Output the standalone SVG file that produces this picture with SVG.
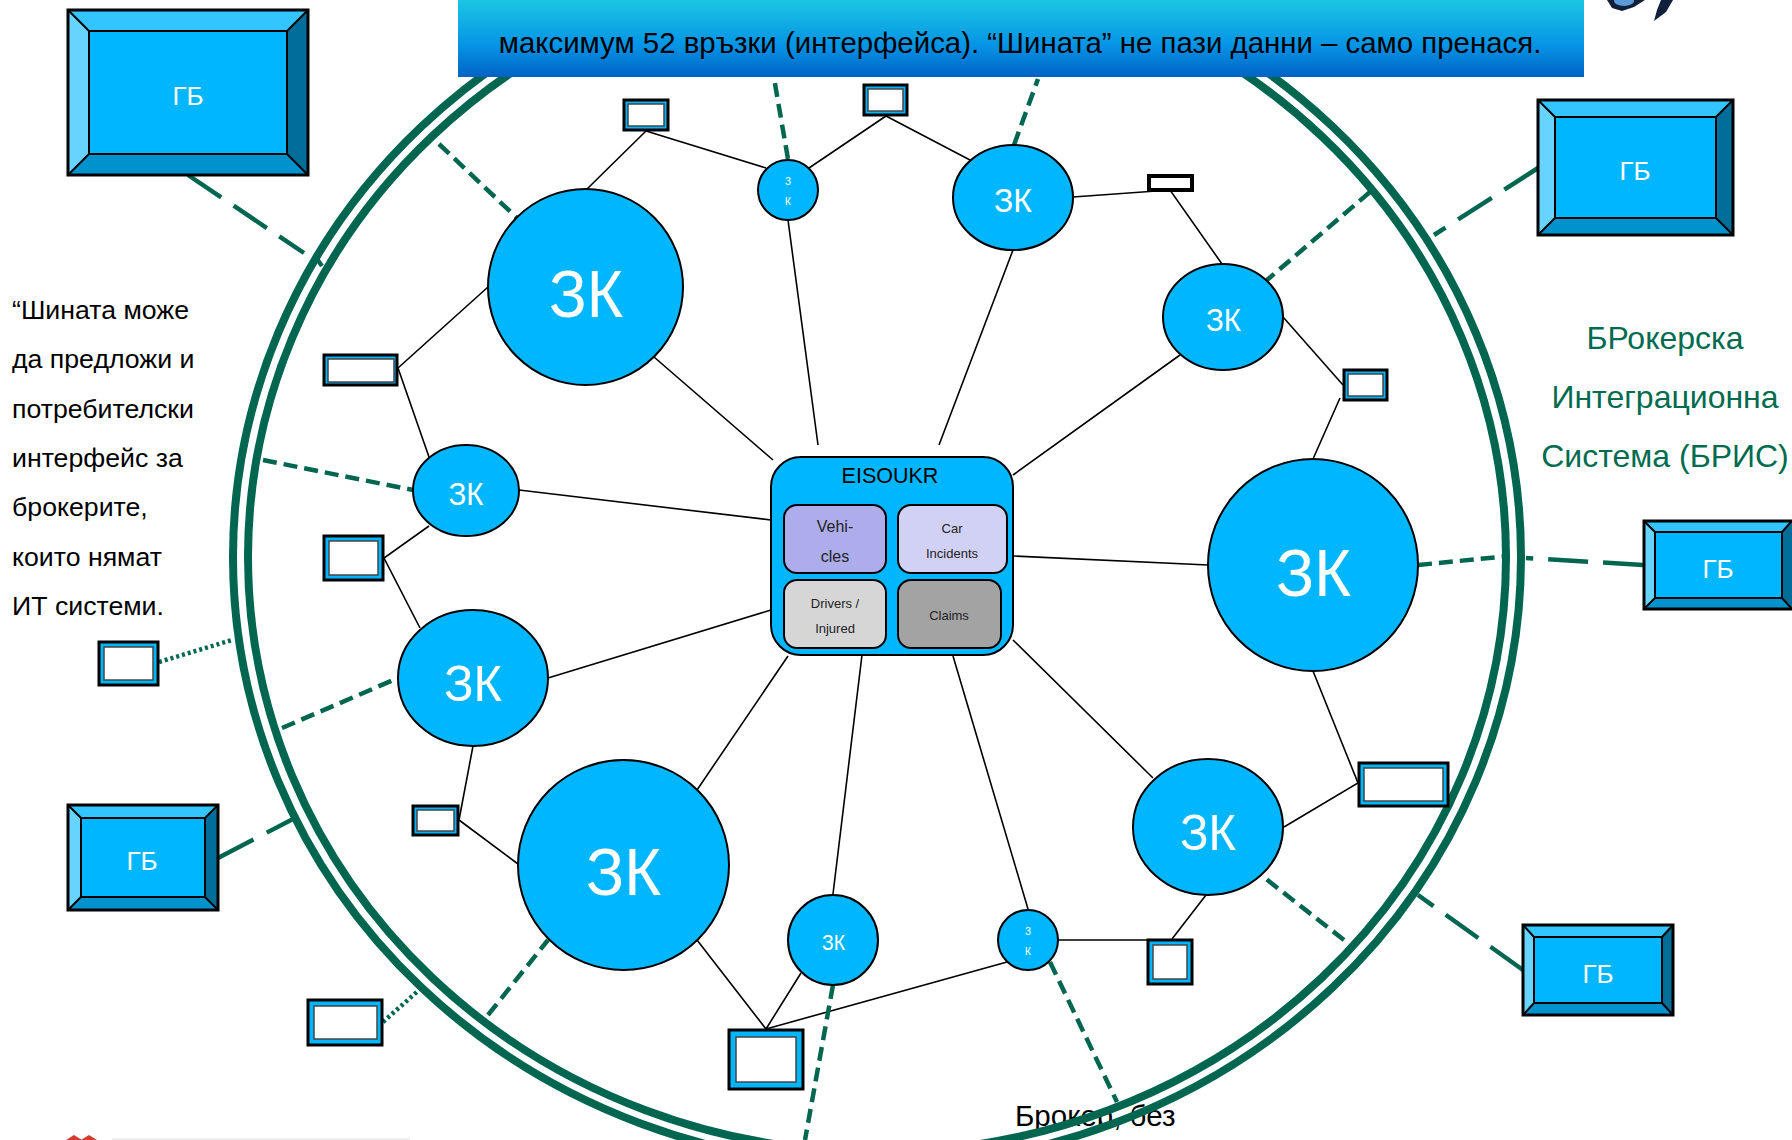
<svg xmlns="http://www.w3.org/2000/svg" width="1792" height="1140" viewBox="0 0 1792 1140">
<style>
text{font-family:"Liberation Sans",Arial,sans-serif}
.c{text-anchor:middle}
.w{fill:#fff}
.n{fill:#00B7FF;stroke:#000;stroke-width:2}
.l{stroke:#000;stroke-width:1.6;fill:none}
.g{stroke:#006650;stroke-width:4.5;fill:none}
.d{stroke-dasharray:14 7}
.ld{stroke-dasharray:40 15}
.dt{stroke-dasharray:3 3}
.ring{fill:none;stroke:#006650;stroke-width:8}
.bo{fill:#00B7FF;stroke:#000;stroke-width:3}
.bi{fill:#fff;stroke:#444;stroke-width:1.5}
.f{stroke:#000;stroke-width:2}
</style>
<defs>
<linearGradient id="bg" x1="0" y1="0" x2="0" y2="1"><stop offset="0" stop-color="#1CC6E2"/><stop offset=".6" stop-color="#0593E6"/><stop offset="1" stop-color="#0062C4"/></linearGradient>
</defs>
<rect width="1792" height="1140" fill="#fff"/>
<text x="1015" y="1126" font-size="29.500" fill="#000">Брокер, без</text>
<g id="bus">
<ellipse class="ring" cx="877" cy="557" rx="644" ry="609"/>
<ellipse class="ring" cx="877" cy="557" rx="629" ry="595"/>
</g>
<g id="connectors">
<path class="l" d="M654 357L773 460M788 220L818 445M1013 250L939 445M1180 355L1013 475M1208 565L1014 556M1153 778L1013 640M1028 909L953 656M833 894L862 655M697 790L788 656M548 678L771 610M519 490L771 520"/>
<path class="l" d="M646 131L586 190M646 131L766 168M886 116L809 168M886 116L970 160M1073 197L1170 190L1222 264M1283 317L1343 385M1340 398L1313 459M1313 671L1358 783L1284 827M1206 895L1172 939M1058 940L1172 940M1007 962L766 1029M801 973L766 1029M697 940L766 1029M459 820L518 864M473 746L459 820M429 526L384 558L420 628M398 368L488 287M398 368L429 457"/>
<path class="g ld" d="M188 175L304 253"/>
<path class="g" d="M317 259L322 266"/>
<path class="g d" d="M439 144L517 218M788 159L774 78M1014 145L1038 79M1370 192L1267 280M263 460L413 490M282 728L398 678M488 1015L548 940M833 985L805 1140M1050 962L1117 1102M1344 940L1261 875M1418 565L1509 556"/>
<path class="g ld" d="M1538 168L1434 235M218 858L293 819M1523 970L1418 895M1643 565L1526 558"/>
<path class="g dt" d="M159 662L232 640M383 1022L419 990"/>
</g>
<g id="banner">
<rect x="458" y="0" width="1126" height="77" fill="url(#bg)"/>
<text x="1020" y="53" class="c" font-size="29.400" fill="#000">максимум 52 връзки (интерфейса). “Шината” не пази данни – само пренася.</text>
</g>
<g id="gb1"><rect x="68" y="10" width="240" height="165" fill="#00B7FF"/><path fill="#33C5FF" d="M68 10H308L287 31H89Z"/><path fill="#66D4FF" d="M68 10L89 31V154L68 175Z"/><path fill="#006E99" d="M308 10L287 31V154L308 175Z"/><path fill="#0092CC" d="M68 175L89 154H287L308 175Z"/><path fill="none" stroke="#000" stroke-width="2" d="M68 10L89 31M308 10L287 31M68 175L89 154M308 175L287 154M89 31H287V154H89Z"/><rect x="68" y="10" width="240" height="165" fill="none" stroke="#000" stroke-width="3"/><text x="188" y="105" class="c w" font-size="26">ГБ</text></g>
<g id="gb2"><rect x="1538" y="100" width="195" height="135" fill="#00B7FF"/><path fill="#33C5FF" d="M1538 100H1733L1716 117H1555Z"/><path fill="#66D4FF" d="M1538 100L1555 117V218L1538 235Z"/><path fill="#006E99" d="M1733 100L1716 117V218L1733 235Z"/><path fill="#0092CC" d="M1538 235L1555 218H1716L1733 235Z"/><path fill="none" stroke="#000" stroke-width="2" d="M1538 100L1555 117M1733 100L1716 117M1538 235L1555 218M1733 235L1716 218M1555 117H1716V218H1555Z"/><rect x="1538" y="100" width="195" height="135" fill="none" stroke="#000" stroke-width="3"/><text x="1635" y="180" class="c w" font-size="26">ГБ</text></g>
<g id="gb3"><rect x="1644" y="521" width="160" height="88" fill="#00B7FF"/><path fill="#33C5FF" d="M1644 521H1792V520L1782 532H1655Z"/><path fill="#66D4FF" d="M1644 521L1655 532V598L1644 609Z"/><path fill="#006E99" d="M1782 532L1792 521V609L1782 598Z"/><path fill="#0092CC" d="M1644 609L1655 598H1782L1792 609Z"/><path fill="none" stroke="#000" stroke-width="2" d="M1644 521L1655 532M1644 609L1655 598M1792 521L1782 532M1792 609L1782 598M1655 532H1782V598H1655Z"/><rect x="1644" y="521" width="160" height="88" fill="none" stroke="#000" stroke-width="3"/><text x="1718" y="578" class="c w" font-size="26">ГБ</text></g>
<g id="gb4"><rect x="68" y="805" width="150" height="105" fill="#00B7FF"/><path fill="#33C5FF" d="M68 805H218L205 818H81Z"/><path fill="#66D4FF" d="M68 805L81 818V897L68 910Z"/><path fill="#006E99" d="M218 805L205 818V897L218 910Z"/><path fill="#0092CC" d="M68 910L81 897H205L218 910Z"/><path fill="none" stroke="#000" stroke-width="2" d="M68 805L81 818M218 805L205 818M68 910L81 897M218 910L205 897M81 818H205V897H81Z"/><rect x="68" y="805" width="150" height="105" fill="none" stroke="#000" stroke-width="3"/><text x="142" y="870" class="c w" font-size="26">ГБ</text></g>
<g id="gb5"><rect x="1523" y="925" width="150" height="90" fill="#00B7FF"/><path fill="#33C5FF" d="M1523 925H1673L1662 937H1534Z"/><path fill="#66D4FF" d="M1523 925L1534 937V1003L1523 1015Z"/><path fill="#006E99" d="M1673 925L1662 937V1003L1673 1015Z"/><path fill="#0092CC" d="M1523 1015L1534 1003H1662L1673 1015Z"/><path fill="none" stroke="#000" stroke-width="2" d="M1523 925L1534 937M1673 925L1662 937M1523 1015L1534 1003M1673 1015L1662 1003M1534 937H1662V1003H1534Z"/><rect x="1523" y="925" width="150" height="90" fill="none" stroke="#000" stroke-width="3"/><text x="1598" y="983" class="c w" font-size="26">ГБ</text></g>
<g id="k1"><ellipse class="n" cx="585.5" cy="287" rx="97.5" ry="98"/><text x="549" y="317" class="w" font-size="66" textLength="74" lengthAdjust="spacingAndGlyphs">ЗК</text></g>
<g id="k2"><ellipse class="n" cx="788" cy="190" rx="30" ry="30"/><text x="788" y="185" class="c w" font-size="10">З</text><text x="788" y="205" class="c w" font-size="10">К</text></g>
<g id="k3"><ellipse class="n" cx="1013" cy="197.5" rx="60" ry="52.5"/><text x="994" y="212" class="w" font-size="34" textLength="38" lengthAdjust="spacingAndGlyphs">ЗК</text></g>
<g id="k4"><ellipse class="n" cx="1223" cy="317" rx="60" ry="53"/><text x="1206" y="331" class="w" font-size="32" textLength="35" lengthAdjust="spacingAndGlyphs">ЗК</text></g>
<g id="k5"><ellipse class="n" cx="1313" cy="565" rx="105" ry="106"/><text x="1276" y="596" class="w" font-size="66" textLength="75" lengthAdjust="spacingAndGlyphs">ЗК</text></g>
<g id="k6"><ellipse class="n" cx="1208" cy="827" rx="75" ry="68"/><text x="1180" y="850" class="w" font-size="50" textLength="56" lengthAdjust="spacingAndGlyphs">ЗК</text></g>
<g id="k7"><ellipse class="n" cx="1028" cy="940" rx="30" ry="30"/><text x="1028" y="935" class="c w" font-size="10">З</text><text x="1028" y="955" class="c w" font-size="10">К</text></g>
<g id="k8"><ellipse class="n" cx="833" cy="940" rx="45" ry="45"/><text x="822" y="950" class="w" font-size="22" textLength="23" lengthAdjust="spacingAndGlyphs">ЗК</text></g>
<g id="k9"><ellipse class="n" cx="623.5" cy="865" rx="105.5" ry="105"/><text x="586" y="895" class="w" font-size="66" textLength="75" lengthAdjust="spacingAndGlyphs">ЗК</text></g>
<g id="k10"><ellipse class="n" cx="473" cy="678" rx="75" ry="68"/><text x="444" y="701" class="w" font-size="50" textLength="58" lengthAdjust="spacingAndGlyphs">ЗК</text></g>
<g id="k11"><ellipse class="n" cx="466" cy="490.500" rx="53" ry="45.500"/><text x="448.500" y="505" class="w" font-size="32" textLength="35" lengthAdjust="spacingAndGlyphs">ЗК</text></g>
<g id="b1"><rect class="bo" x="624" y="100" width="44" height="30"/><rect class="bi" x="628" y="104" width="36" height="22"/></g>
<g id="b2"><rect class="bo" x="864" y="85" width="43" height="30"/><rect class="bi" x="868" y="89" width="35" height="22"/></g>
<g id="b3"><rect x="1149" y="176" width="43" height="14" fill="#fff" stroke="#000" stroke-width="4"/></g>
<g id="b4"><rect class="bo" x="1344" y="370" width="43" height="30"/><rect class="bi" x="1348" y="374" width="35" height="22"/></g>
<g id="b5"><rect class="bo" x="324" y="355" width="73" height="30"/><rect class="bi" x="328" y="359" width="66" height="23"/></g>
<g id="b6"><rect class="bo" x="324" y="536" width="59" height="44"/><rect class="bi" x="329" y="541" width="49" height="34"/></g>
<g id="b7"><rect class="bo" x="99" y="642" width="59" height="43"/><rect class="bi" x="104" y="647" width="49" height="33"/></g>
<g id="b8"><rect class="bo" x="413" y="806" width="45" height="29"/><rect class="bi" x="417" y="810" width="37" height="21"/></g>
<g id="b9"><rect class="bo" x="308" y="1000" width="74" height="45"/><rect class="bi" x="314" y="1006" width="63" height="33"/></g>
<g id="b10"><rect class="bo" x="729" y="1030" width="74" height="59"/><rect class="bi" x="736" y="1037" width="60" height="45"/></g>
<g id="b11"><rect class="bo" x="1148" y="940" width="44" height="44"/><rect class="bi" x="1153" y="945" width="34" height="34"/></g>
<g id="b12"><rect class="bo" x="1359" y="763" width="89" height="43"/><rect class="bi" x="1364" y="768" width="79" height="33"/></g>
<g id="eisoukr">
<rect x="771" y="457" width="242" height="198" rx="30" fill="#00B7FF" stroke="#000" stroke-width="2"/>
<text x="890" y="483" class="c" font-size="21.500" fill="#000">EISOUKR</text>
<rect class="f" x="784" y="505" width="102" height="68" rx="13" fill="#ADADEB"/>
<rect class="f" x="898" y="505" width="109" height="68" rx="13" fill="#D1D1F5"/>
<rect class="f" x="784" y="580" width="102" height="68" rx="13" fill="#D6D6D6"/>
<rect class="f" x="898" y="580" width="103" height="68" rx="13" fill="#A3A3A3"/>
<text x="835" y="532" class="c" font-size="16" fill="#222">Vehi-</text><text x="835" y="562" class="c" font-size="16" fill="#222">cles</text>
<text x="952" y="533" class="c" font-size="13" fill="#222">Car</text><text x="952" y="558" class="c" font-size="13" fill="#222">Incidents</text>
<text x="835" y="608" class="c" font-size="13" fill="#222">Drivers /</text><text x="835" y="633" class="c" font-size="13" fill="#222">Injured</text>
<text x="949" y="620" class="c" font-size="13" fill="#222">Claims</text>
</g>
<g id="note" font-size="26.700" fill="#000">
<text x="12" y="319">“Шината може</text><text x="12" y="368">да предложи и</text><text x="12" y="418">потребителски</text><text x="12" y="467">интерфейс за</text><text x="12" y="516">брокерите,</text><text x="12" y="566">които нямат</text><text x="12" y="615">ИТ системи.</text>
</g>
<g id="bris" font-size="32" fill="#006B4F" class="c">
<text x="1665" y="349">БРокерска</text><text x="1665" y="408">Интеграционна</text><text x="1665" y="467">Система (БРИС)</text>
</g>
<g id="fragments">
<path fill="#10203a" d="M1607 0H1645L1634 7L1622 11L1612 8ZM1661 0H1673L1666 12L1654 21L1657 10Z"/>
<ellipse cx="1624" cy="1" rx="10" ry="5" fill="#5a9ad8"/>
<path fill="#D43B2E" d="M66 1140L74 1135L82 1140ZM81 1140L89 1135L97 1140Z"/>
<rect x="112" y="1138" width="298" height="2" fill="#eee"/>
</g>
</svg>
